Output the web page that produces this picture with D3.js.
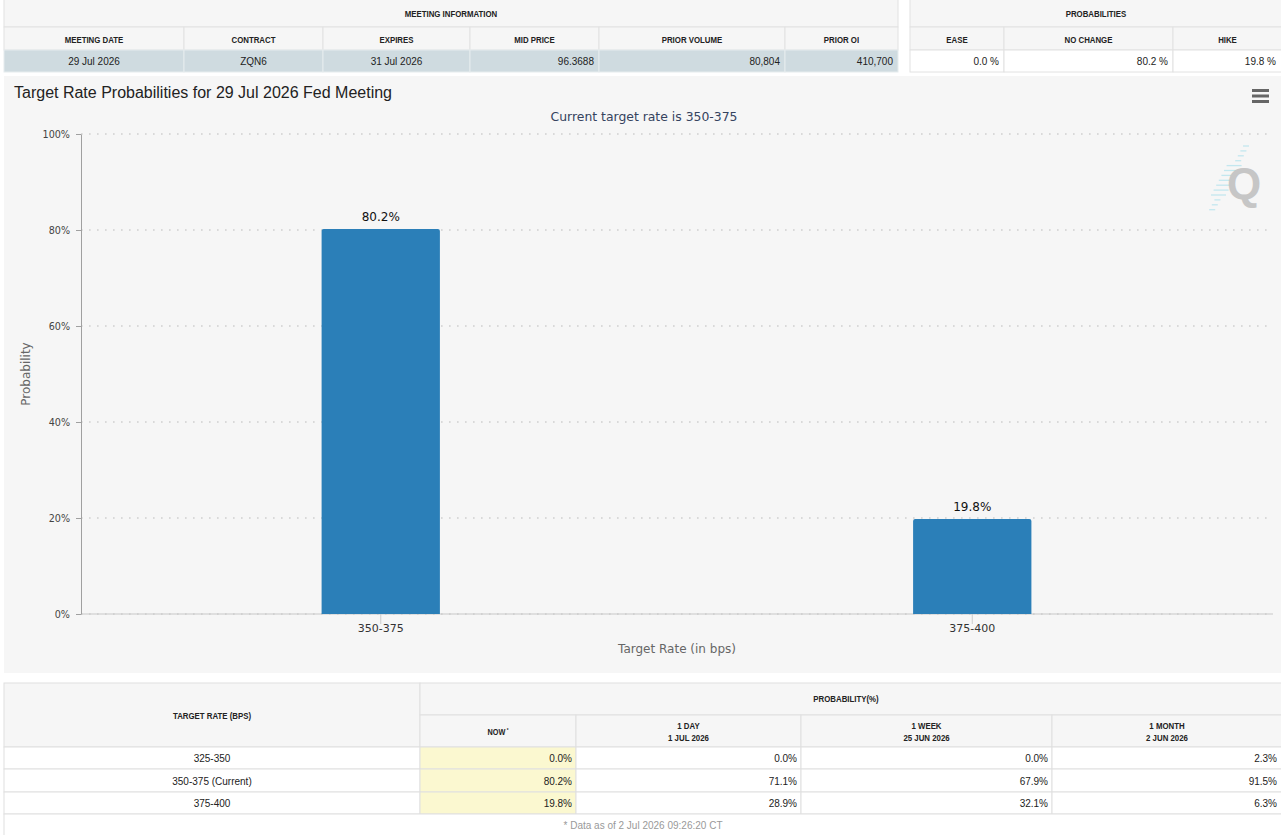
<!DOCTYPE html>
<html>
<head>
<meta charset="utf-8">
<script src="https://cdn.jsdelivr.net/npm/d3@7"></script>
<style>
  html, body { margin: 0; padding: 0; background: #ffffff; }
  svg { display: block; }
</style>
</head>
<body>
<svg id="c" width="1281" height="835"></svg>
<script>
// ---------------- DATA ----------------
const meetingTitle = "MEETING INFORMATION";
const meetingHeaders = ["MEETING DATE", "CONTRACT", "EXPIRES", "MID PRICE", "PRIOR VOLUME", "PRIOR OI"];
const meetingValues = ["29 Jul 2026", "ZQN6", "31 Jul 2026", "96.3688", "80,804", "410,700"];
const probTitle = "PROBABILITIES";
const probHeaders = ["EASE", "NO CHANGE", "HIKE"];
const probValues = ["0.0 %", "80.2 %", "19.8 %"];

const chartTitle = "Target Rate Probabilities for 29 Jul 2026 Fed Meeting";
const chartSubtitle = "Current target rate is 350-375";
const categories = ["350-375", "375-400"];
const probabilities = [80.2, 19.8];
const yTicks = [0, 20, 40, 60, 80, 100];
const xAxisTitle = "Target Rate (in bps)";
const yAxisTitle = "Probability";

const historyTitle = "PROBABILITY(%)";
const rateHeader = "TARGET RATE (BPS)";
const targetRates = ["325-350", "350-375 (Current)", "375-400"];
const historyHeaders = [["NOW"], ["1 DAY", "1 JUL 2026"], ["1 WEEK", "25 JUN 2026"], ["1 MONTH", "2 JUN 2026"]];
const nowValues = [0.0, 80.2, 19.8];
const dayValues = [0.0, 71.1, 28.9];
const weekValues = [0.0, 67.9, 32.1];
const monthValues = [2.3, 91.5, 6.3];
const footnote = "* Data as of 2 Jul 2026 09:26:20 CT";

// ---------------- DRAW ----------------
const svg = d3.select("#c");
const TF = "'Liberation Sans', Arial, sans-serif";
const CF = "'DejaVu Sans', Verdana, sans-serif";
const HS = 9.8; // header font size (condensed afterwards)

function hdr(sel) {
  return sel.attr("class", "hdr").attr("font-family", TF).attr("font-size", HS)
    .attr("font-weight", "bold").attr("fill", "#222");
}

// ===== top-left table =====
const mCols = [4, 184, 323, 470, 599, 785, 898];
const mAlign = ["middle", "middle", "middle", "end", "end", "end"];
const topG = svg.append("g");
topG.append("rect").attr("x", 4).attr("y", -1).attr("width", 894).attr("height", 28)
  .attr("fill", "#f6f6f6").attr("stroke", "#e2e2e2");
hdr(topG.append("text")).attr("x", (4 + 898) / 2).attr("y", 17).attr("text-anchor", "middle")
  .text(meetingTitle);
const mh = topG.selectAll("g.mh").data(meetingHeaders).join("g").attr("class", "mh");
mh.append("rect").attr("x", (d, i) => mCols[i]).attr("y", 27)
  .attr("width", (d, i) => mCols[i + 1] - mCols[i]).attr("height", 23)
  .attr("fill", "#f6f6f6").attr("stroke", "#e2e2e2");
hdr(mh.append("text")).attr("x", (d, i) => (mCols[i] + mCols[i + 1]) / 2).attr("y", 42.5)
  .attr("text-anchor", "middle").text(d => d);
const mv = topG.selectAll("g.mv").data(meetingValues).join("g").attr("class", "mv");
mv.append("rect").attr("x", (d, i) => mCols[i]).attr("y", 50)
  .attr("width", (d, i) => mCols[i + 1] - mCols[i]).attr("height", 22)
  .attr("fill", "#cfdbe0").attr("stroke", "#e6ecee");
mv.append("text")
  .attr("x", (d, i) => mAlign[i] === "middle" ? (mCols[i] + mCols[i + 1]) / 2 : mCols[i + 1] - 5)
  .attr("y", 65).attr("text-anchor", (d, i) => mAlign[i])
  .attr("font-family", TF).attr("font-size", 10).attr("fill", "#222").text(d => d);

// ===== top-right table =====
const pCols = [910, 1004, 1173, 1282];
topG.append("rect").attr("x", 910).attr("y", -1).attr("width", 372).attr("height", 28)
  .attr("fill", "#f6f6f6").attr("stroke", "#e2e2e2");
hdr(topG.append("text")).attr("x", 1096).attr("y", 17).attr("text-anchor", "middle")
  .text(probTitle);
const ph = topG.selectAll("g.ph").data(probHeaders).join("g").attr("class", "ph");
ph.append("rect").attr("x", (d, i) => pCols[i]).attr("y", 27)
  .attr("width", (d, i) => pCols[i + 1] - pCols[i]).attr("height", 23)
  .attr("fill", "#f6f6f6").attr("stroke", "#e2e2e2");
hdr(ph.append("text")).attr("x", (d, i) => (pCols[i] + pCols[i + 1]) / 2).attr("y", 42.5)
  .attr("text-anchor", "middle").text(d => d);
const pv = topG.selectAll("g.pv").data(probValues).join("g").attr("class", "pv");
pv.append("rect").attr("x", (d, i) => pCols[i]).attr("y", 50)
  .attr("width", (d, i) => pCols[i + 1] - pCols[i]).attr("height", 22)
  .attr("fill", "#ffffff").attr("stroke", "#e2e2e2");
pv.append("text").attr("x", (d, i) => Math.min(pCols[i + 1], 1281) - 5).attr("y", 65)
  .attr("text-anchor", "end").attr("font-family", TF).attr("font-size", 10)
  .attr("fill", "#222").text(d => d);

// ===== chart panel =====
svg.append("rect").attr("x", 4).attr("y", 76).attr("width", 1277).attr("height", 597)
  .attr("fill", "#f6f6f6");

svg.append("text").attr("x", 14).attr("y", 98).attr("font-family", TF).attr("font-size", 16)
  .attr("fill", "#222").text(chartTitle);
svg.append("text").attr("x", 644).attr("y", 121).attr("text-anchor", "middle")
  .attr("font-family", CF).attr("font-size", 12.4).attr("fill", "#35435e").text(chartSubtitle);

// hamburger menu
svg.append("g").selectAll("rect").data([0, 1, 2]).join("rect")
  .attr("x", 1252).attr("y", d => 89 + d * 5.5).attr("width", 17).attr("height", 3)
  .attr("fill", "#666");

const plotL = 81, plotR = 1273, plotT = 134, plotB = 614;
const x = d3.scaleBand().domain(categories).range([85, 1268]);
const y = d3.scaleLinear().domain([0, 100]).range([plotB, plotT]);

// gridlines
svg.append("g").selectAll("line").data(yTicks).join("line")
  .attr("x1", plotL).attr("x2", plotR).attr("y1", d => y(d)).attr("y2", d => y(d))
  .attr("stroke", "#cfcfcf").attr("stroke-width", 1.6).attr("stroke-dasharray", "1.6,6.4");

// Q watermark
const qg = svg.append("g");
const dashes = [0, 1, 2, 3, 4, 5, 6, 7, 8, 9, 10, 11, 12, 13];
qg.selectAll("line").data(dashes).join("line")
  .attr("x1", d => 1247 - d * 2.6 - (d > 3 && d < 11 ? 10 : 4))
  .attr("x2", d => 1247 - d * 2.6 + (d > 3 && d < 11 ? 5 : 2))
  .attr("y1", d => 146 + d * 4.9).attr("y2", d => 146 + d * 4.9)
  .attr("stroke", "#c3e7ef").attr("stroke-width", 1.3);
qg.append("text").attr("x", 1244).attr("y", 199).attr("text-anchor", "middle")
  .attr("font-family", TF).attr("font-size", 44).attr("font-weight", "bold")
  .attr("fill", "#c6c6c6").text("Q");

// x axis
const xAxis = svg.append("g").attr("transform", `translate(0,${plotB})`)
  .call(d3.axisBottom(x).tickSize(10).tickSizeOuter(0).tickPadding(5));
xAxis.select(".domain").attr("d", `M${plotL},0H${plotR}`).attr("stroke", "#c8c8c8");
xAxis.selectAll(".tick line").attr("stroke", "#cccccc");
xAxis.selectAll(".tick text").attr("font-family", CF).attr("font-size", 11).attr("fill", "#333")
  .attr("dy", "0.25em");

// y axis
const yAxis = svg.append("g").attr("transform", `translate(${plotL},0)`)
  .call(d3.axisLeft(y).tickValues(yTicks).tickFormat(d => d + "%").tickSize(5).tickSizeOuter(0).tickPadding(6));
yAxis.select(".domain").attr("stroke", "#a0a0a0");
yAxis.selectAll(".tick line").attr("stroke", "#a0a0a0");
yAxis.selectAll(".tick text").attr("font-family", CF).attr("font-size", 9.6).attr("fill", "#444");

// bars
const bw = x.bandwidth() * 0.2;
svg.append("g").selectAll("path").data(categories).join("path")
  .attr("d", (c, i) => {
    const x0 = x(c) + x.bandwidth() / 2 - bw / 2, x1 = x0 + bw;
    const yt = y(probabilities[i]), r = 2;
    return `M${x0},${plotB}V${yt + r}Q${x0},${yt} ${x0 + r},${yt}H${x1 - r}Q${x1},${yt} ${x1},${yt + r}V${plotB}Z`;
  })
  .attr("fill", "#2b7fb8");

// bar labels
svg.append("g").selectAll("text").data(categories).join("text")
  .attr("x", c => x(c) + x.bandwidth() / 2)
  .attr("y", (c, i) => y(probabilities[i]) - 8)
  .attr("text-anchor", "middle").attr("font-family", CF).attr("font-size", 12)
  .attr("fill", "#111").text((c, i) => probabilities[i].toFixed(1) + "%");

// axis titles
svg.append("text").attr("x", 677).attr("y", 653).attr("text-anchor", "middle")
  .attr("font-family", CF).attr("font-size", 12).attr("fill", "#666").text(xAxisTitle);
svg.append("text").attr("transform", "translate(30,374) rotate(-90)").attr("text-anchor", "middle")
  .attr("font-family", CF).attr("font-size", 12).attr("fill", "#666").text(yAxisTitle);

// ===== bottom table =====
const bCols = [4, 420, 576, 801, 1052, 1282];
const bRows = [747, 769, 792, 814];
const bt = svg.append("g");
bt.append("rect").attr("x", 4).attr("y", 683).attr("width", 416).attr("height", 64)
  .attr("fill", "#f6f6f6").attr("stroke", "#e0e0e0");
hdr(bt.append("text")).attr("x", 212).attr("y", 718.5).attr("text-anchor", "middle")
  .text(rateHeader);
bt.append("rect").attr("x", 420).attr("y", 683).attr("width", 862).attr("height", 32)
  .attr("fill", "#f6f6f6").attr("stroke", "#e0e0e0");
hdr(bt.append("text")).attr("x", 846).attr("y", 701.5).attr("text-anchor", "middle")
  .text(historyTitle);
const hh = bt.selectAll("g.hh").data(historyHeaders).join("g").attr("class", "hh");
hh.append("rect").attr("x", (d, i) => bCols[i + 1]).attr("y", 715)
  .attr("width", (d, i) => bCols[i + 2] - bCols[i + 1]).attr("height", 32)
  .attr("fill", "#f6f6f6").attr("stroke", "#e0e0e0");
hh.each(function (d, i) {
  const g = d3.select(this);
  const cx = (bCols[i + 1] + bCols[i + 2]) / 2;
  if (d.length === 1) {
    const t = hdr(g.append("text")).attr("x", cx).attr("y", 734.5).attr("text-anchor", "middle");
    t.append("tspan").text(d[0]);
    t.append("tspan").attr("dx", 2).attr("dy", -3).attr("font-size", 6).text("*");
  } else {
    d.forEach((line, k) => {
      hdr(g.append("text")).attr("x", cx).attr("y", 728.5 + k * 12).attr("text-anchor", "middle")
        .text(line);
    });
  }
});
const series = [nowValues, dayValues, weekValues, monthValues];
targetRates.forEach((rate, r) => {
  const y0 = bRows[r], h = bRows[r + 1] - bRows[r];
  bt.append("rect").attr("x", 4).attr("y", y0).attr("width", 416).attr("height", h)
    .attr("fill", "#fff").attr("stroke", "#e0e0e0");
  bt.append("text").attr("x", 212).attr("y", y0 + h / 2 + 4).attr("text-anchor", "middle")
    .attr("font-family", TF).attr("font-size", 10).attr("fill", "#222").text(rate);
  bt.append("g").selectAll("g").data(series).join("g").each(function (s, j) {
    const g = d3.select(this);
    g.append("rect").attr("x", bCols[j + 1]).attr("y", y0)
      .attr("width", bCols[j + 2] - bCols[j + 1]).attr("height", h)
      .attr("fill", j === 0 ? "#fbf8d0" : "#fff").attr("stroke", "#e0e0e0");
    g.append("text").attr("x", Math.min(bCols[j + 2], 1281) - 4).attr("y", y0 + h / 2 + 4)
      .attr("text-anchor", "end").attr("font-family", TF).attr("font-size", 10)
      .attr("fill", "#222").text(s[r].toFixed(1) + "%");
  });
});
bt.append("rect").attr("x", 4).attr("y", 814).attr("width", 1278).attr("height", 22)
  .attr("fill", "#fff").attr("stroke", "#e0e0e0");
bt.append("text").attr("x", 643).attr("y", 829).attr("text-anchor", "middle")
  .attr("font-family", TF).attr("font-size", 10).attr("fill", "#999").text(footnote);

// condense header text horizontally (reference headers are narrow)
svg.selectAll("text.hdr").each(function () {
  const w = this.getComputedTextLength();
  d3.select(this).attr("textLength", w * 0.8).attr("lengthAdjust", "spacingAndGlyphs");
});
</script>
</body>
</html>
